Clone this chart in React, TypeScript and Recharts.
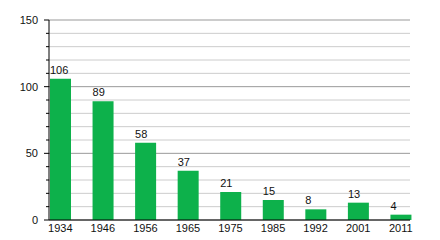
import { BarChart, Bar, XAxis, YAxis, CartesianGrid, LabelList } from "recharts";

const years = ["1934", "1946", "1956", "1965", "1975", "1985", "1992", "2001", "2011"];
const counts = [106, 89, 58, 37, 21, 15, 8, 13, 4];
const yTicks = [0, 10, 20, 30, 40, 50, 60, 70, 80, 90, 100, 110, 120, 130, 140, 150];
const majorTicks = [0, 50, 100, 150];
const minorTicks = yTicks.filter((t) => !majorTicks.includes(t));

const data = years.map((year, i) => ({ year, value: counts[i] }));

const FONT = "'Liberation Sans', Arial, sans-serif";

function YTick({ x, y, payload }: any) {
  const major = majorTicks.includes(payload.value);
  const len = major ? 5 : 3;
  return (
    <g>
      <line x1={x - len} x2={x} y1={y} y2={y} stroke="#000" />
      {major && (
        <text x={x - 11} y={y} dy={4} textAnchor="end" fontSize={11} fill="#111" fontFamily={FONT}>
          {payload.value}
        </text>
      )}
    </g>
  );
}

// value labels sit left-aligned on the bar's left edge
function ValueLabel({ x, y, value }: any) {
  return (
    <text x={x} y={y - 5} textAnchor="start" fontSize={11} fill="#111" fontFamily={FONT}>
      {value}
    </text>
  );
}

export default function App() {
  return (
    <div style={{ position: "fixed", left: 0, top: 0, width: 440, height: 240, background: "#fff" }}>
      <BarChart
        width={440}
        height={240}
        data={data}
        margin={{ top: 20, right: 30, left: 0, bottom: 0 }}
      >
        <CartesianGrid vertical={false} horizontalValues={minorTicks} stroke="#ccc" />
        <CartesianGrid vertical={false} horizontalValues={majorTicks} stroke="#999" />
        <XAxis
          dataKey="year"
          height={20}
          padding={{ left: -10, right: -12 }}
          axisLine={{ stroke: "#000" }}
          tickLine={false}
          tickSize={0}
          tickMargin={4}
          tick={{ fontSize: 11, fill: "#111", fontFamily: FONT }}
          interval={0}
        />
        <YAxis
          width={49}
          domain={[0, 150]}
          ticks={yTicks}
          interval={0}
          axisLine={{ stroke: "#000" }}
          tickLine={false}
          tickSize={0}
          tickMargin={0}
          tick={<YTick />}
        />
        <Bar dataKey="value" fill="#0db14b" barSize={21} isAnimationActive={false}>
          <LabelList dataKey="value" content={<ValueLabel />} />
        </Bar>
      </BarChart>
    </div>
  );
}
